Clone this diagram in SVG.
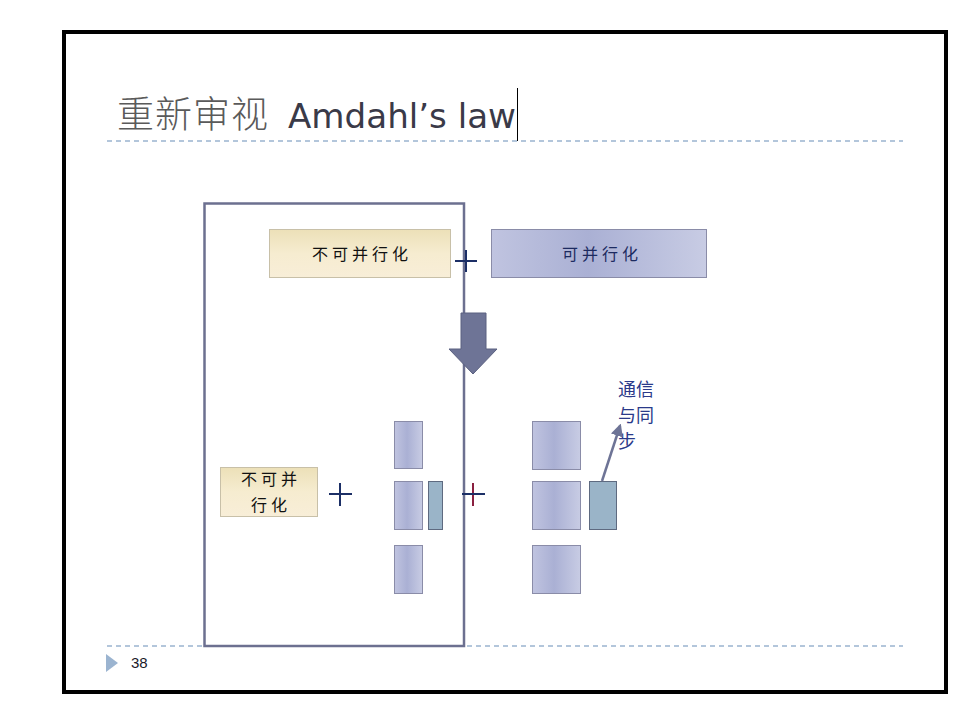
<svg xmlns="http://www.w3.org/2000/svg" width="975" height="703" viewBox="0 0 975 703">
  <defs>
    <linearGradient id="beige" x1="0" y1="0" x2="0" y2="1">
      <stop offset="0" stop-color="#ece0b8"/>
      <stop offset="0.5" stop-color="#f6ecd0"/>
      <stop offset="1" stop-color="#f8eed8"/>
    </linearGradient>
    <linearGradient id="lav" x1="0" y1="0" x2="1" y2="0">
      <stop offset="0" stop-color="#c0c4e0"/>
      <stop offset="0.45" stop-color="#aab0d4"/>
      <stop offset="1" stop-color="#c8cce4"/>
    </linearGradient>
    <marker id="ah" viewBox="0 0 10 10" refX="8" refY="5" markerWidth="5" markerHeight="5" orient="auto">
      <path d="M0,0 L10,5 L0,10 z" fill="#6e7496"/>
    </marker>
  </defs>
  <style>
    .zh { font-family: "Noto Sans CJK SC", sans-serif; }
    .box-b { fill: url(#beige); stroke: #c8c0a8; stroke-width: 1; }
    .box-l { fill: url(#lav); stroke: #8a8ca8; stroke-width: 1; }
    .box-s { fill: #9ab4c8; stroke: #5e6a80; stroke-width: 1; }
    .lbl { font-family: "Noto Sans CJK SC", sans-serif; font-size: 16px; font-weight: 400; fill: #111; letter-spacing: 4px; }
    .plus { stroke: #1c2f66; stroke-width: 2; fill: none; }
    .dash { stroke: #9bb4d0; stroke-width: 1.3; stroke-dasharray: 5 4; }
  </style>

  <rect width="975" height="703" fill="#fff"/>
  <!-- slide frame -->
  <rect x="64" y="32" width="882" height="660" fill="none" stroke="#000" stroke-width="4"/>

  <!-- title -->
  <text x="117" y="128" font-family="Noto Sans CJK SC, serif" font-size="37" fill="#5a5a5a" font-weight="300" letter-spacing="1">重新审视</text>
  <text x="288" y="128" font-family="DejaVu Sans, sans-serif" font-size="33" fill="#3a3a48" textLength="228" lengthAdjust="spacingAndGlyphs">Amdahl’s law</text>
  <line x1="517.5" y1="88" x2="517.5" y2="141" stroke="#000" stroke-width="1"/>

  <line class="dash" x1="107" y1="141" x2="903" y2="141"/>
  <line class="dash" x1="107" y1="646" x2="903" y2="646"/>

  <!-- footer -->
  <polygon points="106,654 118,663 106,672" fill="#9bb4d0"/>
  <text x="131" y="668" font-family="Liberation Sans, sans-serif" font-size="15" fill="#1a1a2a">38</text>

  <!-- enclosing frame -->
  <g id="frame">
    <rect x="204.5" y="203.5" width="259.5" height="442.5" fill="none" stroke="#6c7090" stroke-width="2.5"/>
  </g>

  <g id="serial-top">
    <rect class="box-b" x="269.5" y="229.5" width="181" height="48"/>
    <text class="lbl" x="362" y="260" text-anchor="middle">不可并行化</text>
  </g>
  <g id="parallel-top">
    <rect class="box-l" x="491.5" y="229.5" width="215" height="48"/>
    <text class="lbl" x="602" y="260" text-anchor="middle" style="fill:#1c2a60">可并行化</text>
  </g>

  <g id="serial-bottom">
    <rect class="box-b" x="220.5" y="467.5" width="97" height="49"/>
    <text class="lbl" x="271" y="485" text-anchor="middle">不可并</text>
    <text class="lbl" x="271" y="511" text-anchor="middle">行化</text>
  </g>

  <g id="col1">
    <rect class="box-l" x="394.5" y="421.5" width="28" height="47"/>
    <rect class="box-l" x="394.5" y="481.5" width="28" height="48"/>
    <rect class="box-l" x="394.5" y="545.5" width="28" height="48"/>
    <rect class="box-s" x="428.5" y="481.5" width="14" height="48"/>
  </g>

  <g id="col2">
    <rect class="box-l" x="532.5" y="421.5" width="48" height="48"/>
    <rect class="box-l" x="532.5" y="481.5" width="48" height="48"/>
    <rect class="box-l" x="532.5" y="545.5" width="48" height="48"/>
    <rect class="box-s" x="589.5" y="481.5" width="27" height="48"/>
  </g>

  <g id="comm-label">
    <text class="zh" font-size="18" fill="#2a3a8a" x="618" y="396">通信</text>
    <text class="zh" font-size="18" fill="#2a3a8a" x="618" y="422">与同</text>
    <text class="zh" font-size="18" fill="#2a3a8a" x="618" y="448">步</text>
  </g>

  <g id="connectors">
    <!-- plus signs -->
    <path class="plus" d="M455,261 H477 M466,250 V272"/>
    <path class="plus" d="M329,494 H352 M340,483 V506"/>
    <path d="M473,483 V506" stroke="#8a2040" stroke-width="2"/>
    <path class="plus" d="M462,494 H485"/>
    <!-- down arrow -->
    <polygon points="461,313 486,313 486,349 497,349 473,374 449,349 461,349" fill="#6e7496" stroke="#5a6080" stroke-width="1"/>
    <!-- communication arrow -->
    <line x1="602" y1="481" x2="620" y2="426" stroke="#6e7496" stroke-width="2.5" marker-end="url(#ah)"/>
  </g>
</svg>
